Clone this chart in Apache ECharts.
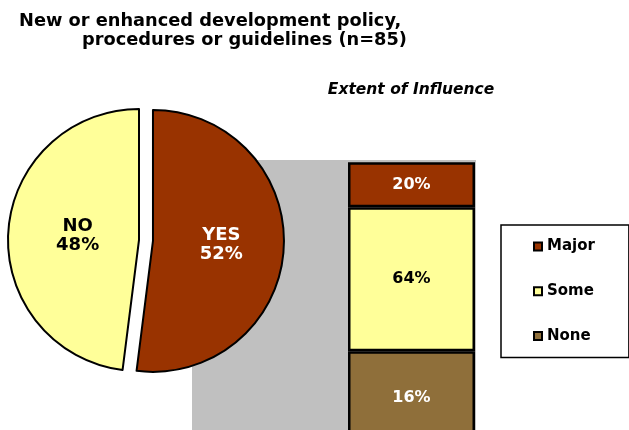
<!DOCTYPE html>
<html>
<head>
<meta charset="utf-8">
<script src="https://cdn.jsdelivr.net/npm/echarts@6/dist/echarts.min.js"></script>
<style>
  html, body { margin: 0; padding: 0; background: #ffffff; }
  #chart { width: 629px; height: 430px; }
</style>
</head>
<body>
<div id="chart"></div>
<script>
// Share of respondents reporting new or enhanced policy work
const pieCategories = ['YES', 'NO'];
const pieValues = [52, 48];

// Extent of influence among the YES group, stacked bottom to top
const influenceLevels = ['None', 'Some', 'Major'];
const influenceValues = [16, 64, 20];
const legendOrder = ['Major', 'Some', 'None'];
const barCategory = ['Extent of Influence'];

const titleLines = ['New or enhanced development policy,', 'procedures or guidelines (n=85)'];
const barHeading = 'Extent of Influence';

const FONT = '"DejaVu Sans", sans-serif';
const fills = { YES: '#993300', NO: '#FFFF99', Major: '#993300', Some: '#FFFF99', None: '#8F6F3A' };
const inkColors = { YES: '#ffffff', NO: '#000000', Major: '#ffffff', Some: '#000000', None: '#ffffff' };
// Nudge the NO label a little toward the middle of its slice
const labelPadding = { YES: 0, NO: [0, 0, 0, 14] };

const chart = echarts.init(document.getElementById('chart'), null, { renderer: 'canvas' });

const pieData = pieCategories.map((name, i) => ({
  name,
  value: pieValues[i],
  selected: name === 'YES',
  itemStyle: { color: fills[name] },
  label: { color: inkColors[name], padding: labelPadding[name] }
}));

const barSeries = influenceLevels.map((name, i) => ({
  type: 'bar',
  name,
  xAxisIndex: 1,
  yAxisIndex: 1,
  stack: 'influence',
  barWidth: '100%',
  data: [influenceValues[i]],
  itemStyle: { color: fills[name], borderColor: '#000000', borderWidth: 2.5 },
  label: {
    show: true,
    position: 'inside',
    formatter: '{c}%',
    color: inkColors[name],
    fontFamily: FONT,
    fontWeight: 'bold',
    fontSize: 16
  },
  emphasis: { disabled: true }
}));

// The value axis runs below zero and bars start from its minimum,
// so the lowest segment reaches past the bottom of the plot area.
const axisMin = -25;
const axisMax = 101;

chart.setOption({
  animation: false,
  backgroundColor: '#ffffff',
  title: [
    {
      text: titleLines[0], left: 19, top: 12, padding: 0,
      textStyle: { fontFamily: FONT, fontWeight: 'bold', fontSize: 17.8, color: '#000000' }
    },
    {
      text: titleLines[1], left: 82, top: 31, padding: 0,
      textStyle: { fontFamily: FONT, fontWeight: 'bold', fontSize: 17.8, color: '#000000' }
    },
    {
      text: barHeading, left: 411, top: 82, padding: 0, textAlign: 'center',
      textStyle: { fontFamily: FONT, fontWeight: 'bold', fontStyle: 'italic', fontSize: 15.5, color: '#000000' }
    }
  ],
  legend: {
    data: legendOrder,
    orient: 'vertical',
    left: 501,
    top: 225,
    padding: [14, 34, 14, 32],
    itemGap: 29.75,
    itemWidth: 8,
    itemHeight: 8,
    icon: 'rect',
    backgroundColor: '#ffffff',
    borderColor: '#000000',
    borderWidth: 1.5,
    itemStyle: { borderColor: '#000000', borderWidth: 2 },
    textStyle: { fontFamily: FONT, fontWeight: 'bold', fontSize: 15, color: '#000000' },
    selectedMode: false
  },
  grid: [
    {
      left: 192, top: 160, width: 284, height: 283.5,
      outerBoundsMode: 'none', containLabel: false,
      show: true, backgroundColor: '#C0C0C0', borderWidth: 0
    },
    {
      left: 348, top: 160, width: 127, height: 283.5,
      outerBoundsMode: 'none', containLabel: false,
      show: false
    }
  ],
  xAxis: [
    { type: 'category', gridIndex: 0, data: barCategory, show: false },
    { type: 'category', gridIndex: 1, data: barCategory, show: false }
  ],
  yAxis: [
    { type: 'value', gridIndex: 0, min: 0, max: 100, show: false },
    { type: 'value', gridIndex: 1, min: axisMin, max: axisMax, startValue: axisMin, show: false }
  ],
  series: [
    {
      type: 'pie',
      center: [139, 240],
      radius: 131,
      startAngle: 90,
      clockwise: true,
      selectedMode: 'single',
      selectedOffset: 14,
      avoidLabelOverlap: false,
      itemStyle: { borderColor: '#000000', borderWidth: 2 },
      label: {
        show: true,
        position: 'inner',
        formatter: '{b}\n{c}%',
        fontFamily: FONT,
        fontWeight: 'bold',
        fontSize: 18,
        lineHeight: 19
      },
      labelLine: { show: false },
      emphasis: { disabled: true },
      data: pieData
    },
    ...barSeries
  ]
});
</script>
</body>
</html>
